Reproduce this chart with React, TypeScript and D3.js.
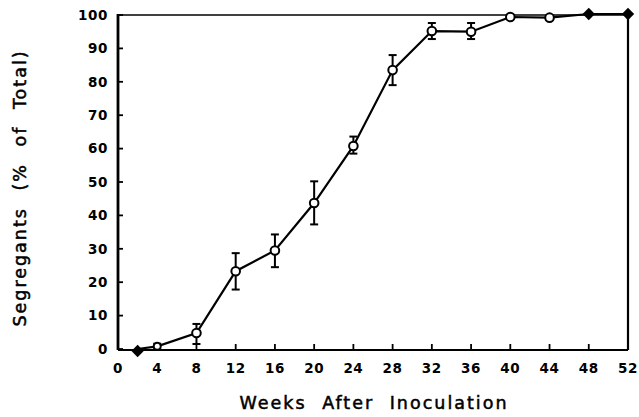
import React from "react";
import * as d3 from "d3";

// weeks after inoculation
const weeks = [2, 4, 8, 12, 16, 20, 24, 28, 32, 36, 40, 44, 48, 52];
// mean % segregants
const means = [0, 0.8, 4.8, 23.3, 29.5, 43.7, 60.8, 83.5, 95.2, 95, 99.4, 99.2, 100.3, 100.3];
// error bar low / high
const errLow = [0, 0, 1.5, 17.8, 24.5, 37.3, 58.5, 79, 92.8, 92.8, 99, 98.7, 100.3, 100.3];
const errHigh = [0, 1.6, 7.5, 28.7, 34.3, 50.2, 63.6, 88, 97.6, 97.6, 99.8, 99.8, 100.3, 100.3];
// marker type: diamond = filled diamond, circle = open circle
const markers = ["diamond", "circle", "circle", "circle", "circle", "circle", "circle", "circle", "circle", "circle", "circle", "circle", "diamond", "diamond"];

const xTicks = [0, 4, 8, 12, 16, 20, 24, 28, 32, 36, 40, 44, 48, 52];
const yTicks = [0, 10, 20, 30, 40, 50, 60, 70, 80, 90, 100];

const font = "'DejaVu Sans', sans-serif";

export default function App() {
  const width = 639;
  const height = 417;
  const left = 118, right = 628, top = 15, bottom = 349;

  const x = d3.scaleLinear().domain([0, 52]).range([left, right]);
  const y = d3.scaleLinear().domain([0, 100]).range([bottom, top]);

  const line = d3.line<number>()
    .x((d, i) => x(weeks[i]))
    .y((d) => y(d));

  // square turned 45deg gives the fat diamond of the original
  const diamond = d3.symbol().type(d3.symbolSquare).size(76)();

  return (
    <svg width={width} height={height} style={{ position: "absolute", left: 0, top: 0, background: "#fff" }}>
      {/* frame */}
      <line x1={left} x2={right} y1={top} y2={top} stroke="#000" strokeWidth={1.6} />
      <line x1={right} x2={right} y1={top} y2={bottom + 1} stroke="#000" strokeWidth={2.2} />
      <line x1={left} x2={left} y1={top - 1} y2={bottom + 1} stroke="#000" strokeWidth={2.8} />
      <line x1={left} x2={right} y1={bottom + 1} y2={bottom + 1} stroke="#000" strokeWidth={2.2} />

      {/* y ticks */}
      {yTicks.map((t) => (
        <g key={"y" + t}>
          <line x1={left} x2={left + 5} y1={y(t)} y2={y(t)} stroke="#000" strokeWidth={1.8} />
          <text x={left - 10} y={y(t)} dy="0.36em" textAnchor="end" fontFamily={font} fontWeight="bold"
            fontSize={13.5} letterSpacing={0.6}>{t}</text>
        </g>
      ))}

      {/* x ticks */}
      {xTicks.map((t) => (
        <g key={"x" + t}>
          {t > 0 && t < 52 && (
            <line x1={x(t)} x2={x(t)} y1={bottom + 1} y2={bottom - 5} stroke="#000" strokeWidth={1.8} />
          )}
          <text x={x(t)} y={368} dy="0.36em" textAnchor="middle" fontFamily={font} fontWeight="bold"
            fontSize={13.5} letterSpacing={0.6}>{t}</text>
        </g>
      ))}

      {/* error bars */}
      {weeks.map((w, i) => {
        if (errHigh[i] - errLow[i] < 0.5) return null;
        const cx = x(w);
        return (
          <g key={"e" + w} stroke="#000" strokeWidth={2}>
            <line x1={cx} x2={cx} y1={y(errLow[i])} y2={y(errHigh[i])} />
            <line x1={cx - 4} x2={cx + 4} y1={y(errLow[i])} y2={y(errLow[i])} />
            <line x1={cx - 4} x2={cx + 4} y1={y(errHigh[i])} y2={y(errHigh[i])} />
          </g>
        );
      })}

      {/* data line */}
      <path d={line(means) || ""} fill="none" stroke="#000" strokeWidth={2.2} />

      {/* markers */}
      {weeks.map((w, i) =>
        markers[i] === "diamond" ? (
          <path key={"m" + w} d={diamond || ""}
            transform={`translate(${x(w)},${y(means[i]) + (w === 2 ? 2 : 0)}) rotate(45)`} fill="#000" />
        ) : (
          <circle key={"m" + w} cx={x(w)} cy={y(means[i])} r={w === 4 ? 3.5 : 4.3} fill="#fff" stroke="#000" strokeWidth={2} />
        )
      )}

      {/* axis titles */}
      <text x={374} y={409} textAnchor="middle" fontFamily={font} fontSize={17.5} letterSpacing={2}
        wordSpacing={8} fill="#000" stroke="#000" strokeWidth={0.5}>Weeks After Inoculation</text>
      <text transform={`translate(26,188) rotate(-90)`} textAnchor="middle" fontFamily={font} fontSize={17.5}
        letterSpacing={2} wordSpacing={9} fill="#000" stroke="#000" strokeWidth={0.5}>Segregants (% of Total)</text>
    </svg>
  );
}
